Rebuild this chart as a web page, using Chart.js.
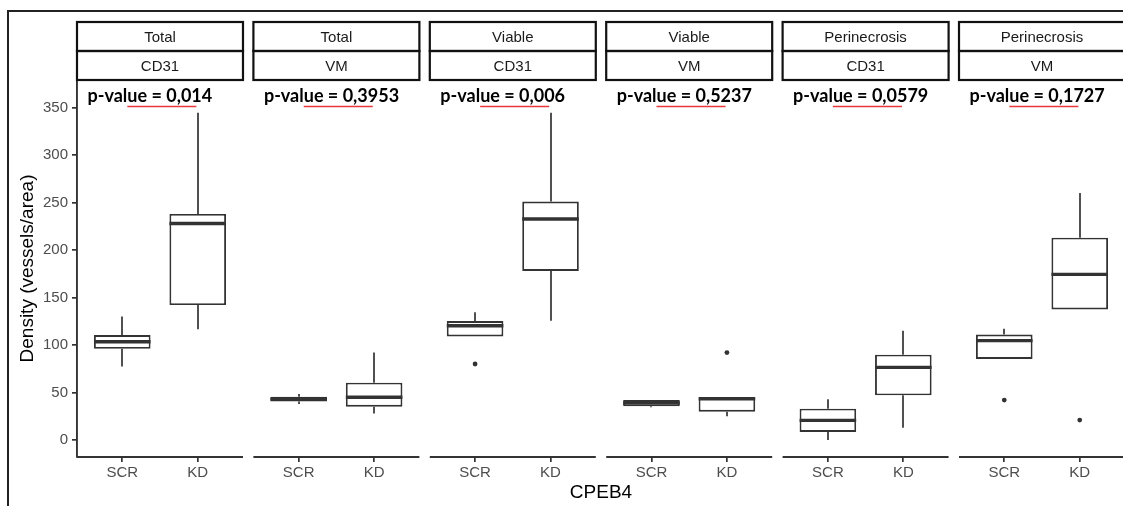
<!DOCTYPE html>
<html><head><meta charset="utf-8">
<script src="https://cdn.jsdelivr.net/npm/chart.js@4.4.0/dist/chart.umd.min.js"></script>
<style>
html,body{margin:0;padding:0;background:#fff;overflow:hidden;width:1123px;height:506px;}
#wrap{position:absolute;left:0;top:0;width:1130px;height:506px;}
</style></head><body>
<div id="wrap"><canvas id="c" width="1130" height="506"></canvas></div>
<script>
// ---- data ----
const facetRegion = ['Total','Total','Viable','Viable','Perinecrosis','Perinecrosis'];
const facetMarker = ['CD31','VM','CD31','VM','CD31','VM'];
const pValues = ['0,014','0,3953','0,006','0,5237','0,0579','0,1727'];
const groups = ['SCR','KD'];
const yTicks = [0,50,100,150,200,250,300,350];
// per panel: [SCR, KD]
const whiskerLow  = [[77.5,116.5],[38,28],[109,125.6],[34.5,25],[0,13],[85.3,137.5]];
const q1          = [[96,142],[40.5,35],[109,178],[35.5,29.8],[8.4,47],[85.3,137.5]];
const median      = [[103.5,228],[43,45],[120.3,232.6],[39,43.5],[20.7,76.5],[104.6,174.4]];
const q3          = [[110.5,238],[45.5,60.3],[125.3,251],[42,45],[33,89.8],[111,213]];
const whiskerHigh = [[130,344.5],[48.5,92],[134.4,344.5],[42,45],[42.8,115],[117,260]];
const outliers    = [[[],[]],[[],[]],[[80],[]],[[],[92]],[[],[]],[[42],[21]]];

// ---- facet geometry (in x-scale units) ----
const PANEL_W = 2.2, GAP = 0.138, EXPAND = 0.6;
const nPanels = facetRegion.length;
const panelLeft = k => k * (PANEL_W + GAP);
const pos = (k, j) => panelLeft(k) + EXPAND + j;

const boxData = [], outData = [], tickPos = [];
for (let k = 0; k < nPanels; k++) {
  for (let j = 0; j < groups.length; j++) {
    boxData.push({x: pos(k, j), y: [q1[k][j], q3[k][j]], k, j});
    tickPos.push(pos(k, j));
    outliers[k][j].forEach(v => outData.push({x: pos(k, j), y: v}));
  }
}

const INK = '#333333';
const SANS = '"Liberation Sans", Arial, sans-serif';

const facetPlugin = {
  id: 'facetDecor',
  beforeDatasetsDraw(chart) {
    const {ctx, scales: {x, y}} = chart;
    ctx.save();
    ctx.strokeStyle = INK; ctx.lineWidth = 1.7;
    boxData.forEach(d => {
      const px = Math.round(x.getPixelForValue(d.x));
      ctx.beginPath();
      ctx.moveTo(px, y.getPixelForValue(q3[d.k][d.j]));
      ctx.lineTo(px, y.getPixelForValue(whiskerHigh[d.k][d.j]));
      ctx.moveTo(px, y.getPixelForValue(q1[d.k][d.j]));
      ctx.lineTo(px, y.getPixelForValue(whiskerLow[d.k][d.j]));
      ctx.stroke();
    });
    ctx.restore();
  },
  afterDatasetsDraw(chart) {
    const {ctx, scales: {y}} = chart;
    const meta = chart.getDatasetMeta(0);
    ctx.save();
    ctx.strokeStyle = INK; ctx.lineWidth = 3.4;
    meta.data.forEach((el, i) => {
      const d = boxData[i];
      const py = y.getPixelForValue(median[d.k][d.j]);
      ctx.beginPath();
      ctx.moveTo(el.x - el.width / 2, py);
      ctx.lineTo(el.x + el.width / 2, py);
      ctx.stroke();
    });
    ctx.restore();
  },
  afterDraw(chart) {
    const {ctx, chartArea, scales: {x}} = chart;
    ctx.save();
    for (let k = 0; k < nPanels; k++) {
      const x0 = x.getPixelForValue(panelLeft(k));
      const x1 = x.getPixelForValue(panelLeft(k) + PANEL_W);
      // x-axis line per panel
      ctx.strokeStyle = INK; ctx.lineWidth = 1.9;
      ctx.beginPath();
      ctx.moveTo(x0, chartArea.bottom); ctx.lineTo(x1, chartArea.bottom);
      ctx.stroke();
      // strips
      const sTop = chartArea.top - 58, sMid = chartArea.top - 29;
      ctx.strokeStyle = '#111'; ctx.lineWidth = 2.2;
      ctx.strokeRect(x0, sTop, x1 - x0, 29);
      ctx.strokeRect(x0, sMid, x1 - x0, 29);
      ctx.fillStyle = '#1a1a1a';
      ctx.font = '15px ' + SANS;
      ctx.textAlign = 'center'; ctx.textBaseline = 'middle';
      ctx.fillText(facetRegion[k], (x0 + x1) / 2, sTop + 15.5);
      ctx.fillText(facetMarker[k], (x0 + x1) / 2, sMid + 15.5);
      // p-value annotation
      const label = 'p-value = ' + pValues[k];
      ctx.font = 'bold 18px Lato, "Open Sans", sans-serif';
      ctx.textAlign = 'left'; ctx.textBaseline = 'alphabetic';
      ctx.fillStyle = '#000';
      const tx = x0 + 10.5, ty = chartArea.top + 21.5;
      ctx.fillText(label, tx, ty);
      const u0 = tx + ctx.measureText('p-val').width;
      const u1 = tx + ctx.measureText('p-value = 0,0').width + 5;
      ctx.strokeStyle = '#e8383d'; ctx.lineWidth = 1.3;
      ctx.beginPath(); ctx.moveTo(u0, ty + 5); ctx.lineTo(u1, ty + 5); ctx.stroke();
    }
    // outer frame
    ctx.strokeStyle = '#222'; ctx.lineWidth = 2;
    ctx.beginPath();
    ctx.moveTo(8, 506); ctx.lineTo(8, 11); ctx.lineTo(1130, 11);
    ctx.stroke();
    ctx.restore();
  }
};

new Chart(document.getElementById('c'), {
  type: 'bar',
  data: {
    datasets: [
      {
        type: 'bar', data: boxData,
        backgroundColor: '#ffffff', borderColor: INK, borderWidth: 1.9,
        borderSkipped: false, barPercentage: 0.75, categoryPercentage: 1.0
      },
      {
        type: 'scatter', data: outData,
        backgroundColor: INK, borderWidth: 0, pointRadius: 2.4
      }
    ]
  },
  options: {
    responsive: false,
    animation: false,
    layout: {padding: {left: 15, top: 80, right: 5, bottom: 0}},
    plugins: {legend: {display: false}, tooltip: {enabled: false}},
    scales: {
      x: {
        type: 'linear', offset: false,
        min: 0, max: nPanels * PANEL_W + (nPanels - 1) * GAP,
        afterBuildTicks: s => { s.ticks = tickPos.map(v => ({value: v})); },
        afterFit: s => { s.height = 49; },
        ticks: {
          autoSkip: false, maxRotation: 0, padding: 2,
          color: '#4d4d4d', font: {family: SANS, size: 15},
          callback: (v, i) => groups[i % groups.length]
        },
        grid: {offset: false, drawOnChartArea: false, drawTicks: true, tickLength: 5, color: INK, lineWidth: 1.7},
        border: {display: false},
        title: {display: true, text: 'CPEB4', color: '#000', font: {family: SANS, size: 19}, padding: {top: 0, bottom: 2}}
      },
      y: {
        min: -17.9, max: 379,
        afterBuildTicks: s => { s.ticks = yTicks.map(v => ({value: v})); },
        afterFit: s => { s.width = 62; },
        ticks: {color: '#4d4d4d', font: {family: SANS, size: 15}, padding: 4},
        grid: {drawOnChartArea: false, drawTicks: true, tickLength: 5, color: INK, lineWidth: 1.7},
        border: {display: true, color: INK, width: 1.9},
        title: {display: true, text: 'Density (vessels/area)', color: '#000', font: {family: SANS, size: 19}, padding: {top: 1, bottom: 0}}
      }
    }
  },
  plugins: [facetPlugin]
});
</script>
</body></html>
